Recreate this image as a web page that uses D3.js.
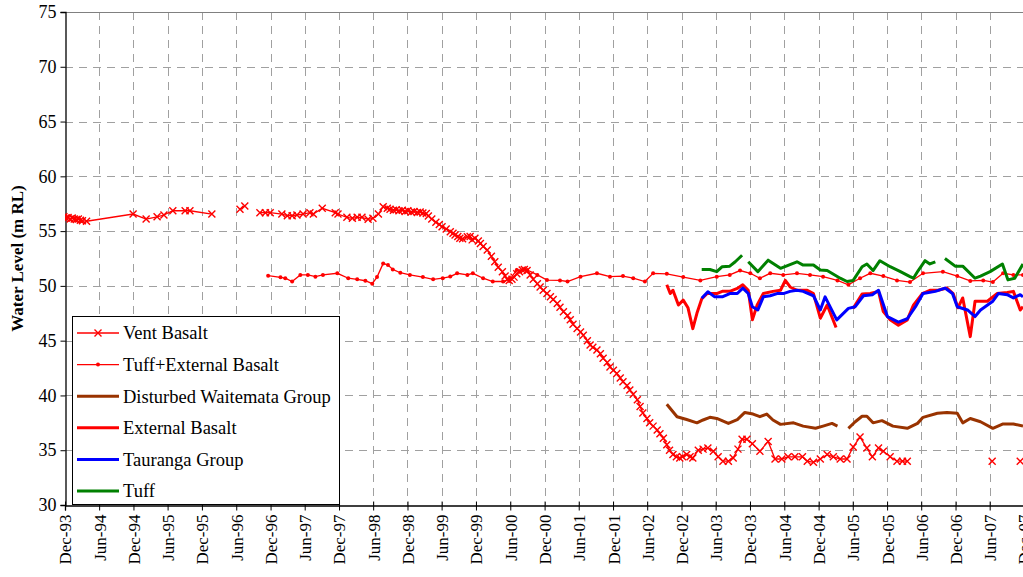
<!DOCTYPE html>
<html><head><meta charset="utf-8">
<script src="https://cdn.jsdelivr.net/npm/d3@7"></script>
<style>body{margin:0;background:#fff;} svg{display:block;}</style>
</head><body>
<svg id="chart" width="1023" height="577"></svg>
<script>
// ---- DATA (decimal years, water level m RL; null = gap) ----
const ventYears = [1993.90,1993.93,1993.96,1993.99,1994.02,1994.05,1994.08,1994.11,1994.14,1994.17,1994.23,
 1994.91,1995.10,1995.26,1995.36,1995.49,1995.67,1995.74,1996.06,null,
 1996.47,1996.54,null,
 1996.76,1996.84,1996.91,1997.08,1997.16,1997.23,1997.30,1997.39,1997.49,1997.54,1997.67,1997.86,1997.90,
 1998.03,1998.11,1998.18,1998.25,1998.34,1998.41,1998.49,1998.56,1998.62,1998.66,1998.71,1998.75,1998.79,
 1998.84,1998.88,1998.92,1998.97,1999.01,1999.06,1999.10,1999.14,1999.19,1999.22,1999.27,1999.33,1999.38,
 1999.42,1999.48,1999.54,1999.58,1999.61,1999.65,1999.68,1999.72,1999.79,1999.83,1999.86,1999.90,1999.95,
 1999.98,2000.02,2000.08,2000.14,2000.19,2000.24,2000.30,2000.34,2000.37,2000.40,2000.44,2000.47,2000.51,
 2000.55,2000.59,2000.62,2000.66,2000.705,2000.75,2000.81,2000.85,2000.895,2000.95,2001.00,2001.04,2001.10,
 2001.14,2001.19,2001.25,2001.29,2001.33,2001.39,2001.44,2001.48,2001.54,2001.58,2001.62,2001.68,2001.73,
 2001.77,2001.83,2001.87,2001.92,2001.97,2002.02,2002.06,2002.12,2002.16,2002.21,2002.27,2002.31,2002.35,
 2002.41,2002.45,2002.50,2002.56,2002.60,2002.65,2002.70,2002.74,2002.79,2002.84,2002.89,2002.93,
 2002.99,2003.04,2003.08,2003.16,2003.23,2003.30,2003.38,2003.45,2003.52,2003.60,2003.67,2003.74,2003.80,
 2003.87,2003.95,2004.06,2004.18,2004.28,2004.38,2004.47,2004.57,2004.68,2004.75,2004.84,2004.94,2005.04,
 2005.13,2005.23,2005.33,2005.42,2005.52,2005.62,2005.70,2005.79,2005.86,2005.96,2006.06,2006.14,2006.21,null,
 2007.45,null,2007.86];
const ventValues = [56.3,56.2,56.25,56.1,56.2,56.1,56.05,56.1,56.0,55.95,55.9,
 56.56,56.1,56.3,56.47,56.86,56.86,56.86,56.56,null,
 57.0,57.3,null,
 56.68,56.68,56.68,56.56,56.41,56.41,56.47,56.56,56.68,56.56,57.08,56.68,56.56,
 56.26,56.17,56.26,56.26,56.08,56.17,56.56,57.23,57.08,57.0,56.9,56.95,56.85,
 56.9,56.8,56.85,56.75,56.8,56.7,56.75,56.65,56.6,56.38,56.1,55.8,55.6,
 55.4,55.2,54.95,54.8,54.64,54.5,54.34,54.3,54.49,54.5,54.2,54.34,54.1,
 53.88,53.6,53.27,52.7,52.2,51.7,51.3,50.9,50.6,50.5,50.6,50.8,51.1,
 51.3,51.45,51.5,51.4,51.0,50.6,50.2,49.9,49.6,49.3,49.0,48.75,48.4,
 48.05,47.65,47.3,46.9,46.5,46.1,45.8,45.5,45.0,44.6,44.4,44.15,43.8,
 43.4,43.0,42.6,42.3,42.0,41.6,41.25,40.9,40.5,40.1,39.6,39.0,38.4,
 37.9,37.5,37.2,36.85,36.5,36.1,35.5,35.0,34.6,34.4,34.3,34.4,
 34.6,34.4,34.3,35.0,35.1,35.2,34.9,34.4,34.0,34.0,34.3,35.1,36.0,
 36.0,35.6,34.9,35.8,34.2,34.2,34.4,34.4,34.4,34.0,33.9,34.2,34.6,
 34.4,34.2,34.2,35.3,36.2,35.2,34.4,35.2,34.9,34.4,34.0,34.0,34.0,null,
 34.0,null,34.0];

const tuffExtYears = [1996.88,1997.06,1997.13,1997.23,1997.35,1997.46,1997.57,1997.68,1997.89,1998.05,1998.18,
 1998.30,1998.40,1998.47,1998.56,1998.63,1998.70,1998.81,1998.95,1999.14,1999.29,1999.43,1999.54,1999.64,
 1999.79,1999.87,2000.02,2000.16,2000.31,2000.41,2000.51,2000.66,2000.81,2000.95,2001.14,2001.25,2001.44,
 2001.68,2001.87,2002.06,2002.21,2002.38,2002.50,2002.70,2002.94,2003.19,2003.43,2003.62,2003.77,2003.92,
 2004.06,2004.21,2004.40,2004.60,2004.79,2004.98,2005.19,2005.35,2005.52,2005.67,2005.86,2006.06,2006.25,
 2006.44,2006.73,2006.94,2007.13,2007.32,2007.46,2007.61,2007.76,2007.90];
const tuffExtValues = [50.93,50.78,50.7,50.4,51.0,51.0,50.84,51.0,51.15,50.7,50.6,
 50.47,50.2,50.8,52.05,51.9,51.5,51.2,51.0,50.8,50.6,50.7,50.85,51.15,
 51.0,51.15,50.7,50.4,50.4,50.6,51.45,51.45,51.0,50.53,50.5,50.4,50.84,
 51.15,50.84,50.9,50.7,50.4,51.15,51.1,50.8,50.5,50.84,51.0,51.4,51.15,
 50.7,51.15,51.0,51.15,51.0,50.84,50.5,50.1,50.7,51.15,50.9,50.5,50.35,
 51.15,51.3,50.9,50.45,50.5,50.35,51.15,51.0,51.0];

const waitemataYears = [2002.70,2002.85,2002.99,2003.14,2003.23,2003.33,2003.43,2003.60,2003.73,2003.84,2003.96,
 2004.06,2004.16,2004.25,2004.36,2004.55,2004.69,2004.87,2004.98,2005.11,2005.19,null,
 2005.35,2005.45,2005.55,2005.62,2005.71,2005.84,2006.00,2006.21,2006.36,2006.44,2006.65,2006.79,2006.94,
 2007.02,2007.13,2007.28,2007.46,2007.61,2007.76,2007.90];
const waitemataValues = [39.2,38.06,37.8,37.5,37.76,38.0,37.9,37.45,37.8,38.45,38.3,
 38.06,38.3,37.76,37.36,37.5,37.2,37.0,37.2,37.45,37.2,null,
 37.0,37.6,38.1,38.1,37.5,37.7,37.2,37.0,37.45,38.0,38.37,38.45,38.37,
 37.5,37.9,37.6,37.0,37.4,37.4,37.2];

const extBasaltYears = [2002.70,2002.75,2002.79,2002.87,2002.94,2003.01,2003.08,2003.14,2003.21,2003.29,2003.43,
 2003.51,2003.62,2003.74,2003.81,2003.89,2003.95,2004.02,2004.11,2004.25,2004.36,2004.43,2004.50,2004.60,
 2004.75,2004.84,2004.94,2005.04,2005.17,null,
 2005.42,2005.55,2005.67,2005.79,2005.86,2005.96,2006.08,2006.21,2006.30,2006.43,2006.54,2006.66,2006.79,
 2006.88,2006.95,2007.02,2007.13,2007.20,2007.38,2007.52,2007.67,2007.76,2007.86,2007.90];
const extBasaltValues = [50.1,49.3,49.6,48.25,48.7,48.0,46.1,47.5,48.8,49.3,49.3,
 49.5,49.5,49.8,50.1,49.6,46.9,48.25,49.3,49.5,49.6,50.5,49.9,49.6,
 49.6,49.3,47.05,48.25,46.2,null,
 47.95,49.26,49.3,49.5,47.65,46.9,46.4,46.9,48.25,49.3,49.6,49.6,49.8,
 49.3,48.0,48.9,45.37,48.6,48.6,49.3,49.4,49.5,47.8,48.1];

const taurangaYears = [2003.21,2003.30,2003.40,2003.51,2003.62,2003.73,2003.81,2003.89,2003.95,2004.03,2004.11,
 2004.21,2004.31,2004.40,2004.50,2004.60,2004.69,2004.84,2004.94,2005.01,2005.18,2005.35,2005.45,2005.57,
 2005.70,2005.79,2005.92,2006.08,2006.21,2006.33,2006.44,2006.62,2006.76,2006.87,2006.94,2007.09,2007.20,
 2007.28,2007.46,2007.54,2007.67,2007.76,2007.86,2007.90];
const taurangaValues = [48.87,49.47,49.0,49.0,49.3,49.3,49.8,49.3,48.1,47.8,49.0,
 49.1,49.3,49.3,49.5,49.6,49.5,49.1,47.8,49.0,46.9,47.95,48.1,49.1,
 49.2,49.6,47.2,46.7,47.0,48.1,49.3,49.5,49.8,49.3,48.1,47.8,47.2,
 47.8,48.6,49.3,49.2,48.9,49.2,49.0];

const tuffYears = [2003.21,2003.33,2003.43,2003.51,2003.62,2003.70,2003.80,null,
 2003.89,2004.03,2004.18,2004.36,2004.60,2004.69,2004.84,2004.94,2005.04,2005.23,2005.33,2005.42,2005.55,
 2005.62,2005.71,2005.81,2005.96,2006.11,2006.25,2006.30,2006.37,2006.47,2006.54,2006.62,null,
 2006.76,2006.91,2007.02,2007.20,2007.28,2007.42,2007.60,2007.68,2007.78,2007.90];
const tuffValues = [51.5,51.5,51.3,51.75,51.8,52.2,52.8,null,
 52.2,51.3,52.35,51.6,52.2,51.9,51.9,51.45,51.4,50.7,50.4,50.5,51.75,
 52.0,51.4,52.3,51.75,51.3,50.85,50.7,51.4,52.3,52.0,52.2,null,
 52.5,51.8,51.8,50.7,50.9,51.3,52.0,50.55,50.7,52.0];

const seriesNames = ["Vent Basalt","Tuff+External Basalt","Disturbed Waitemata Group","External Basalt","Tauranga Group","Tuff"];
const seriesColors = ["#ff0000","#ff0000","#993300","#ff0000","#0000ff","#008000"];
const yTickValues = [30,35,40,45,50,55,60,65,70,75];
const xStart = [1993, 11, 1], xEnd = [2007, 11, 1];

// ---- HELPERS ----
function toDate(yv){ const yr=Math.floor(yv); const a=new Date(yr,0,1), b=new Date(yr+1,0,1); return new Date(+a+(yv-yr)*(b-a)); }
function pairs(ys, vs){ return ys.map((yv,i)=> (yv==null||vs[i]==null)? null : {d:toDate(yv), v:vs[i]}); }

const svg = d3.select("#chart");
const pLeft=65, pRight=1024, pTop=12, pBottom=505;
const x = d3.scaleTime().domain([new Date(...xStart), new Date(...xEnd)]).range([pLeft,pRight]);
const y = d3.scaleLinear().domain([30,75]).range([pBottom,pTop]);
const xTicks = d3.timeMonth.range(new Date(...xStart), d3.timeMonth.offset(new Date(...xEnd),1), 6);
const fmt = d3.timeFormat("%b-%y");
const serif = "Liberation Serif, DejaVu Serif, serif";

// gridlines
const grid = svg.append("g");
grid.selectAll("line.h").data(yTickValues.filter(v=>v>30&&v<75)).join("line")
  .attr("x1",pLeft).attr("x2",pRight).attr("y1",d=>Math.round(y(d))+0.5).attr("y2",d=>Math.round(y(d))+0.5)
  .attr("stroke","#a0a0a0").attr("stroke-width",1).attr("stroke-dasharray","8,6");
grid.selectAll("line.v").data(xTicks.slice(1)).join("line")
  .attr("x1",d=>Math.round(x(d))+0.5).attr("x2",d=>Math.round(x(d))+0.5).attr("y1",pTop).attr("y2",pBottom)
  .attr("stroke","#a0a0a0").attr("stroke-width",1).attr("stroke-dasharray","8,6");
// top border
svg.append("line").attr("x1",pLeft).attr("x2",pRight).attr("y1",pTop+0.5).attr("y2",pTop+0.5).attr("stroke","#808080");

// axes
const yAxis = svg.append("g").attr("transform",`translate(${pLeft+0.5},0)`)
  .call(d3.axisLeft(y).tickValues(yTickValues).tickSize(5).tickPadding(4).tickFormat(d3.format("d")));
yAxis.select(".domain").attr("stroke","#000").attr("stroke-width",1.3);
yAxis.selectAll("text").attr("font-family",serif).attr("font-size",18).attr("fill","#000");

const xAxis = svg.append("g").attr("transform",`translate(0,${pBottom+0.5})`)
  .call(d3.axisBottom(x).tickValues(xTicks).tickSize(5).tickFormat(fmt));
xAxis.select(".domain").attr("stroke","#000").attr("stroke-width",1.3);
xAxis.selectAll(".tick line").attr("y1",-4).attr("y2",5);
xAxis.selectAll("text").attr("font-family",serif).attr("font-size",17).attr("fill","#000")
  .attr("transform","rotate(-90)").attr("text-anchor","end").attr("dy","0.35em").attr("x",-9).attr("y",0);

svg.append("text").attr("transform",`translate(23,${(pTop+pBottom)/2}) rotate(-90)`)
  .attr("text-anchor","middle").attr("font-family",serif).attr("font-weight","bold").attr("font-size",17)
  .text("Water Level (m RL)");

// series
svg.append("clipPath").attr("id","clp").append("rect").attr("x",pLeft).attr("y",pTop-10).attr("width",pRight-pLeft).attr("height",pBottom-pTop+10);
const plot = svg.append("g").attr("clip-path","url(#clp)");
const line = d3.line().defined(d=>d!=null).x(d=>x(d.d)).y(d=>y(d.v));

const vent = pairs(ventYears, ventValues);
const tuffExt = pairs(tuffExtYears, tuffExtValues);
const wait = pairs(waitemataYears, waitemataValues);
const extB = pairs(extBasaltYears, extBasaltValues);
const taur = pairs(taurangaYears, taurangaValues);
const tuff = pairs(tuffYears, tuffValues);

function xMark(g, pts, color, s){
  g.selectAll("path.xm").data(pts.filter(d=>d)).join("path")
   .attr("d",d=>{const cx=x(d.d), cy=y(d.v); return `M${cx-s},${cy-s}L${cx+s},${cy+s}M${cx-s},${cy+s}L${cx+s},${cy-s}`;})
   .attr("stroke",color).attr("stroke-width",1.4).attr("fill","none");
}

plot.append("path").datum(vent).attr("d",line).attr("fill","none").attr("stroke",seriesColors[0]).attr("stroke-width",1.3);
xMark(plot.append("g"), vent, seriesColors[0], 3.5);
plot.append("path").datum(tuffExt).attr("d",line).attr("fill","none").attr("stroke",seriesColors[1]).attr("stroke-width",1.3);
plot.append("g").selectAll("circle").data(tuffExt.filter(d=>d)).join("circle")
  .attr("cx",d=>x(d.d)).attr("cy",d=>y(d.v)).attr("r",2).attr("fill",seriesColors[1]);
[[wait,2],[extB,3],[taur,4],[tuff,5]].forEach(([data,i])=>{
  plot.append("path").datum(data).attr("d",line).attr("fill","none").attr("stroke",seriesColors[i])
   .attr("stroke-width",3).attr("stroke-linejoin","round");
});

// legend
const lg = svg.append("g");
lg.append("rect").attr("x",72.5).attr("y",316.5).attr("width",267).attr("height",188)
  .attr("fill","#fff").attr("stroke","#000").attr("stroke-width",1);
seriesNames.forEach((name,i)=>{
  const cy = 333 + i*31.6;
  lg.append("line").attr("x1",77).attr("x2",119).attr("y1",cy).attr("y2",cy)
    .attr("stroke",seriesColors[i]).attr("stroke-width", i<2?1.3:3);
  if(i===0){ lg.append("path").attr("d",`M${98-3.5},${cy-3.5}L${98+3.5},${cy+3.5}M${98-3.5},${cy+3.5}L${98+3.5},${cy-3.5}`).attr("stroke",seriesColors[0]).attr("stroke-width",1.4); }
  if(i===1){ lg.append("circle").attr("cx",98).attr("cy",cy).attr("r",2).attr("fill",seriesColors[1]); }
  lg.append("text").attr("x",123).attr("y",cy).attr("dy","0.35em").attr("font-family",serif).attr("font-size",18.5)
    .text(name);
});
</script>
</body></html>
